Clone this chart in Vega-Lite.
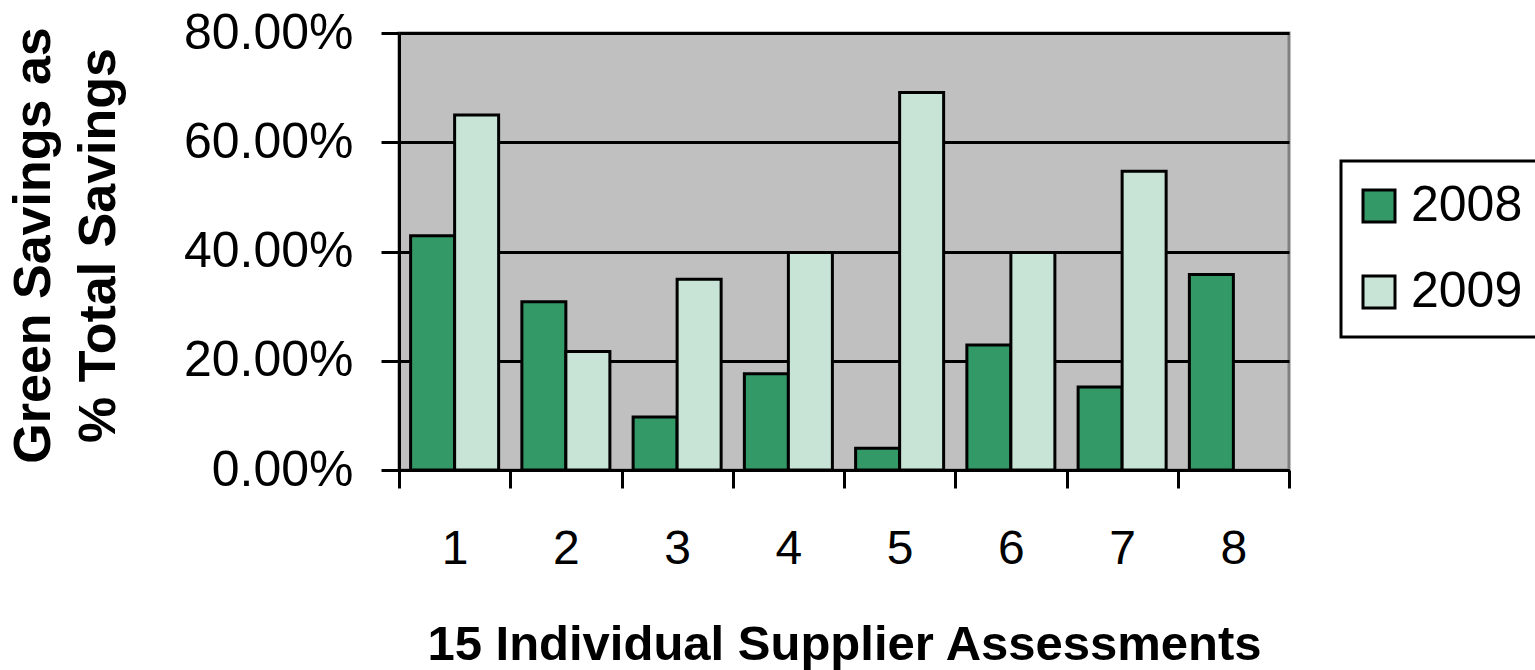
{
  "$schema": "https://vega.github.io/schema/vega-lite/v6.json",
  "width": 890,
  "height": 437,
  "autosize": {"type": "none"},
  "padding": {"left": 399, "top": 33, "right": 246, "bottom": 200},
  "background": "white",
  "config": {
    "font": "Liberation Sans",
    "view": {"fill": "#c0c0c0", "stroke": "#808080", "strokeWidth": 3},
    "legend": {"strokeWidth": 3}
  },
  "data": {
    "values": [
      {"supplier": "1", "year": "2008", "value": 0.429},
      {"supplier": "1", "year": "2009", "value": 0.65},
      {"supplier": "2", "year": "2008", "value": 0.308},
      {"supplier": "2", "year": "2009", "value": 0.217},
      {"supplier": "3", "year": "2008", "value": 0.097},
      {"supplier": "3", "year": "2009", "value": 0.349},
      {"supplier": "4", "year": "2008", "value": 0.176},
      {"supplier": "4", "year": "2009", "value": 0.398},
      {"supplier": "5", "year": "2008", "value": 0.04},
      {"supplier": "5", "year": "2009", "value": 0.691},
      {"supplier": "6", "year": "2008", "value": 0.229},
      {"supplier": "6", "year": "2009", "value": 0.398},
      {"supplier": "7", "year": "2008", "value": 0.152},
      {"supplier": "7", "year": "2009", "value": 0.547},
      {"supplier": "8", "year": "2008", "value": 0.358}
    ]
  },
  "mark": {"type": "bar", "stroke": "black", "strokeWidth": 3},
  "encoding": {
    "x": {
      "field": "supplier",
      "type": "nominal",
      "scale": {"paddingInner": 0, "paddingOuter": 0},
      "axis": {
        "title": "15 Individual Supplier Assessments",
        "titleFontSize": 49,
        "titleFontWeight": "bold",
        "titleColor": "black",
        "titlePadding": 47,
        "labelAngle": 0,
        "labelFontSize": 48,
        "labelColor": "black",
        "labelPadding": 37,
        "tickBand": "extent",
        "tickSize": 18,
        "tickWidth": 3,
        "tickColor": "black",
        "domainColor": "black",
        "domainWidth": 3,
        "grid": false
      }
    },
    "xOffset": {
      "field": "year",
      "type": "nominal",
      "scale": {"paddingInner": 0, "paddingOuter": 0.264}
    },
    "y": {
      "field": "value",
      "type": "quantitative",
      "scale": {"domain": [0, 0.8], "nice": false},
      "axis": {
        "title": ["Green Savings as", "% Total Savings"],
        "titleFontSize": 52,
        "titleFontWeight": "bold",
        "titleColor": "black",
        "titlePadding": 74,
        "titleLineHeight": 65,
        "titleY": 212,
        "values": [0, 0.2, 0.4, 0.6, 0.8],
        "format": ".2%",
        "labelFontSize": 50,
        "labelColor": "black",
        "labelPadding": 28,
        "tickSize": 18,
        "tickWidth": 3,
        "tickColor": "black",
        "domainColor": "black",
        "domainWidth": 3,
        "grid": true,
        "gridColor": "black",
        "gridWidth": 3,
        "gridOpacity": 1
      }
    },
    "fill": {
      "field": "year",
      "type": "nominal",
      "scale": {"domain": ["2008", "2009"], "range": ["#339966", "#c8e4d6"]},
      "legend": {
        "title": null,
        "orient": "none",
        "legendX": 942,
        "legendY": 128,
        "padding": 20,
        "strokeColor": "black",
        "fillColor": "white",
        "symbolType": "square",
        "symbolSize": 1024,
        "symbolOffset": -7,
        "symbolStrokeColor": "black",
        "symbolStrokeWidth": 3,
        "symbolOpacity": 1,
        "labelFontSize": 50,
        "labelColor": "black",
        "labelOffset": 7,
        "rowPadding": 36
      }
    }
  }
}
